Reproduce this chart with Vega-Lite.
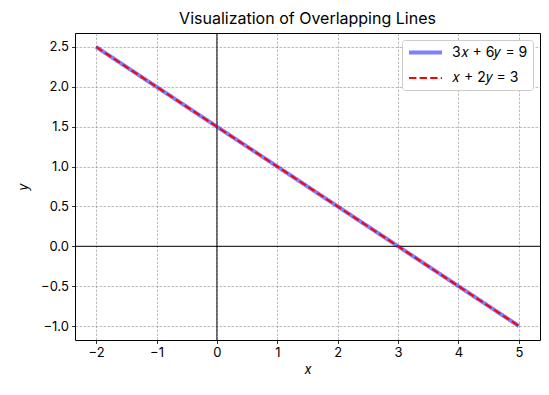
{
  "$schema": "https://vega.github.io/schema/vega-lite/v6.json",
  "autosize": "none",
  "width": 465,
  "height": 307,
  "padding": {"left": 75, "top": 33, "right": 9, "bottom": 55},
  "config": {
    "font": "Inter",
    "view": {"stroke": "black", "strokeWidth": 1},
    "axis": {
      "labelFont": "Inter", "labelFontSize": 13, "labelColor": "black",
      "titleFont": "Inter", "titleFontSize": 13, "titleFontWeight": "normal", "titleFontStyle": "italic", "titleColor": "black",
      "tickColor": "black", "tickSize": 3.5, "tickWidth": 0.8,
      "domain": false,
      "grid": true, "gridColor": "#7a7a7a", "gridWidth": 0.5, "gridDash": [2.5, 1.5],
      "labelPadding": 3
    }
  },
  "title": {"text": "Visualization of Overlapping Lines", "font": "Inter", "fontSize": 16, "fontWeight": "normal", "color": "black", "offset": 6},
  "data": {"values": [
    {"series": "3𝑥 + 6𝑦 = 9", "x": -2, "y": 2.5},
    {"series": "3𝑥 + 6𝑦 = 9", "x": 5, "y": -1},
    {"series": "𝑥 + 2𝑦 = 3", "x": -2, "y": 2.5},
    {"series": "𝑥 + 2𝑦 = 3", "x": 5, "y": -1}
  ]},
  "layer": [
    {
      "data": {"values": [{"v": 0}]},
      "mark": {"type": "rule", "color": "black", "strokeWidth": 1},
      "encoding": {"x": {"field": "v", "type": "quantitative", "scale": {"domain": [-2.35, 5.35]}}}
    },
    {
      "data": {"values": [{"v": 0}]},
      "mark": {"type": "rule", "color": "black", "strokeWidth": 1},
      "encoding": {"y": {"field": "v", "type": "quantitative", "scale": {"domain": [-1.175, 2.675]}}}
    },
    {
      "mark": {"type": "line"},
      "encoding": {
        "x": {"field": "x", "type": "quantitative", "title": "x",
              "scale": {"domain": [-2.35, 5.35], "nice": false, "zero": false},
              "axis": {"values": [-2, -1, 0, 1, 2, 3, 4, 5], "format": "d", "titlePadding": 4}},
        "y": {"field": "y", "type": "quantitative", "title": "y",
              "scale": {"domain": [-1.175, 2.675], "nice": false, "zero": false},
              "axis": {"values": [-1, -0.5, 0, 0.5, 1, 1.5, 2, 2.5], "format": ".1f", "titlePadding": 10}},
        "color": {"field": "series", "type": "nominal",
                  "scale": {"domain": ["3𝑥 + 6𝑦 = 9", "𝑥 + 2𝑦 = 3"], "range": ["blue", "red"]},
                  "legend": {"title": null, "orient": "top-right", "offset": 7, "fillColor": "white", "strokeColor": "#cccccc", "cornerRadius": 3, "padding": 5, "symbolType": "M-1,0H5", "symbolSize": 121, "labelFontSize": 14, "labelFont": "Inter", "labelColor": "black", "labelOffset": 30, "rowPadding": 10}},
        "strokeDash": {"field": "series", "type": "nominal",
                  "scale": {"domain": ["3𝑥 + 6𝑦 = 9", "𝑥 + 2𝑦 = 3"], "range": [[1, 0], [7.4, 3.2]]}},
        "strokeWidth": {"field": "series", "type": "nominal",
                  "scale": {"domain": ["3𝑥 + 6𝑦 = 9", "𝑥 + 2𝑦 = 3"], "range": [4, 2]}},
        "opacity": {"field": "series", "type": "nominal",
                  "scale": {"domain": ["3𝑥 + 6𝑦 = 9", "𝑥 + 2𝑦 = 3"], "range": [0.5, 1]}}
      }
    }
  ]
}
